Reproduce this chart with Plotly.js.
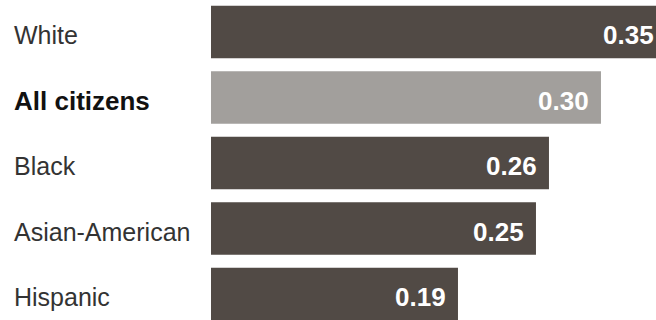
<!DOCTYPE html>
<html>
<head>
<meta charset="utf-8">
<script src="https://cdn.plot.ly/plotly-3.0.1.min.js"></script>
<style>
html, body { margin: 0; padding: 0; background: #fff; overflow: hidden; width: 656px; height: 320px; }
#chart { width: 680px; height: 320px; }
</style>
</head>
<body>
<div id="chart"></div>
<script>
const categories = ["White", "All citizens", "Black", "Asian-American", "Hispanic"];
const values = [0.35, 0.30, 0.26, 0.25, 0.19];
const valueLabels = ["0.35", "0.30", "0.26", "0.25", "0.19"];
const highlight = "All citizens";

const darkColor = "#514a45";
const lightColor = "#a29f9c";

const barColors = categories.map(c => c === highlight ? lightColor : darkColor);

const trace = {
  type: "bar",
  orientation: "h",
  y: categories,
  x: values,
  marker: { color: barColors, line: { width: 0 } },
  hoverinfo: "none"
};

const annotations = [];
categories.forEach((c, i) => {
  const bold = c === highlight;
  annotations.push({
    xref: "paper", yref: "y",
    x: -0.4235, y: c,
    xanchor: "left", yanchor: "middle",
    yshift: -3,
    text: bold ? "<b>" + c + "</b>" : c,
    showarrow: false,
    font: { family: "Liberation Sans, Arial, sans-serif", size: bold ? 26 : 25, color: bold ? "#111111" : "#333333" }
  });
  annotations.push({
    xref: "x", yref: "y",
    x: values[i], y: c,
    xanchor: "right", yanchor: "middle",
    xshift: -10, yshift: -3,
    text: "<b>" + valueLabels[i] + "</b>",
    showarrow: false,
    font: { family: "Liberation Sans, Arial, sans-serif", size: 26, color: "#ffffff" }
  });
});

const layout = {
  width: 680,
  height: 320,
  margin: { l: 211, r: 0, t: 0, b: 0, pad: 0 },
  paper_bgcolor: "#ffffff",
  plot_bgcolor: "#ffffff",
  showlegend: false,
  bargap: 0.2,
  xaxis: {
    range: [0, 0.3608],
    showgrid: false, zeroline: false, showline: false,
    showticklabels: false, ticks: "", fixedrange: true
  },
  yaxis: {
    type: "category",
    categoryorder: "array",
    categoryarray: categories,
    range: [4.397, -0.4885],
    showgrid: false, zeroline: false, showline: false,
    showticklabels: false, ticks: "", fixedrange: true
  },
  annotations: annotations
};

Plotly.newPlot("chart", [trace], layout, { displayModeBar: false, staticPlot: true });
</script>
</body>
</html>
